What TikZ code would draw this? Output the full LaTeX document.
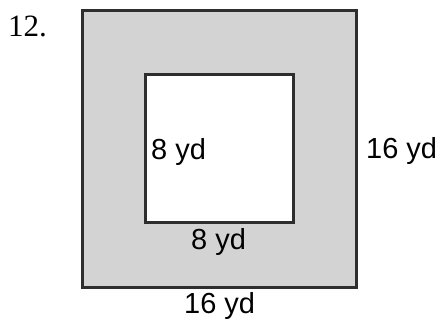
\documentclass[tikz,border=0pt]{standalone}
\usepackage{fontspec}
\setmainfont{Liberation Serif}
\newfontfamily\labelfont{Liberation Sans}
\definecolor{shade}{HTML}{D3D3D3}
\definecolor{edge}{HTML}{2E2E2E}
\begin{document}
\begin{tikzpicture}[x=1pt,y=1pt,
  lab/.style={inner sep=0pt,anchor=base west,font=\labelfont\fontsize{29}{31}\selectfont},
  num/.style={inner sep=0pt,anchor=base west,font=\fontsize{31}{33}\selectfont},
  sq/.style={draw=edge,line width=3pt}]
\useasboundingbox (0,0) rectangle (440,322);
\draw[sq,fill=shade] (82,35) rectangle (356,311);
\draw[sq,fill=white] (145,99) rectangle (293,247);
\node[num] (n) at (8,285) {12.};
\node[lab] (a) at (151,162) {8 yd};
\node[lab] (b) at (191,72) {8 yd};
\node[lab] (c) at (184,9) {16 yd};
\node[lab] (d) at (366,163) {16 yd};
\end{tikzpicture}
\end{document}
